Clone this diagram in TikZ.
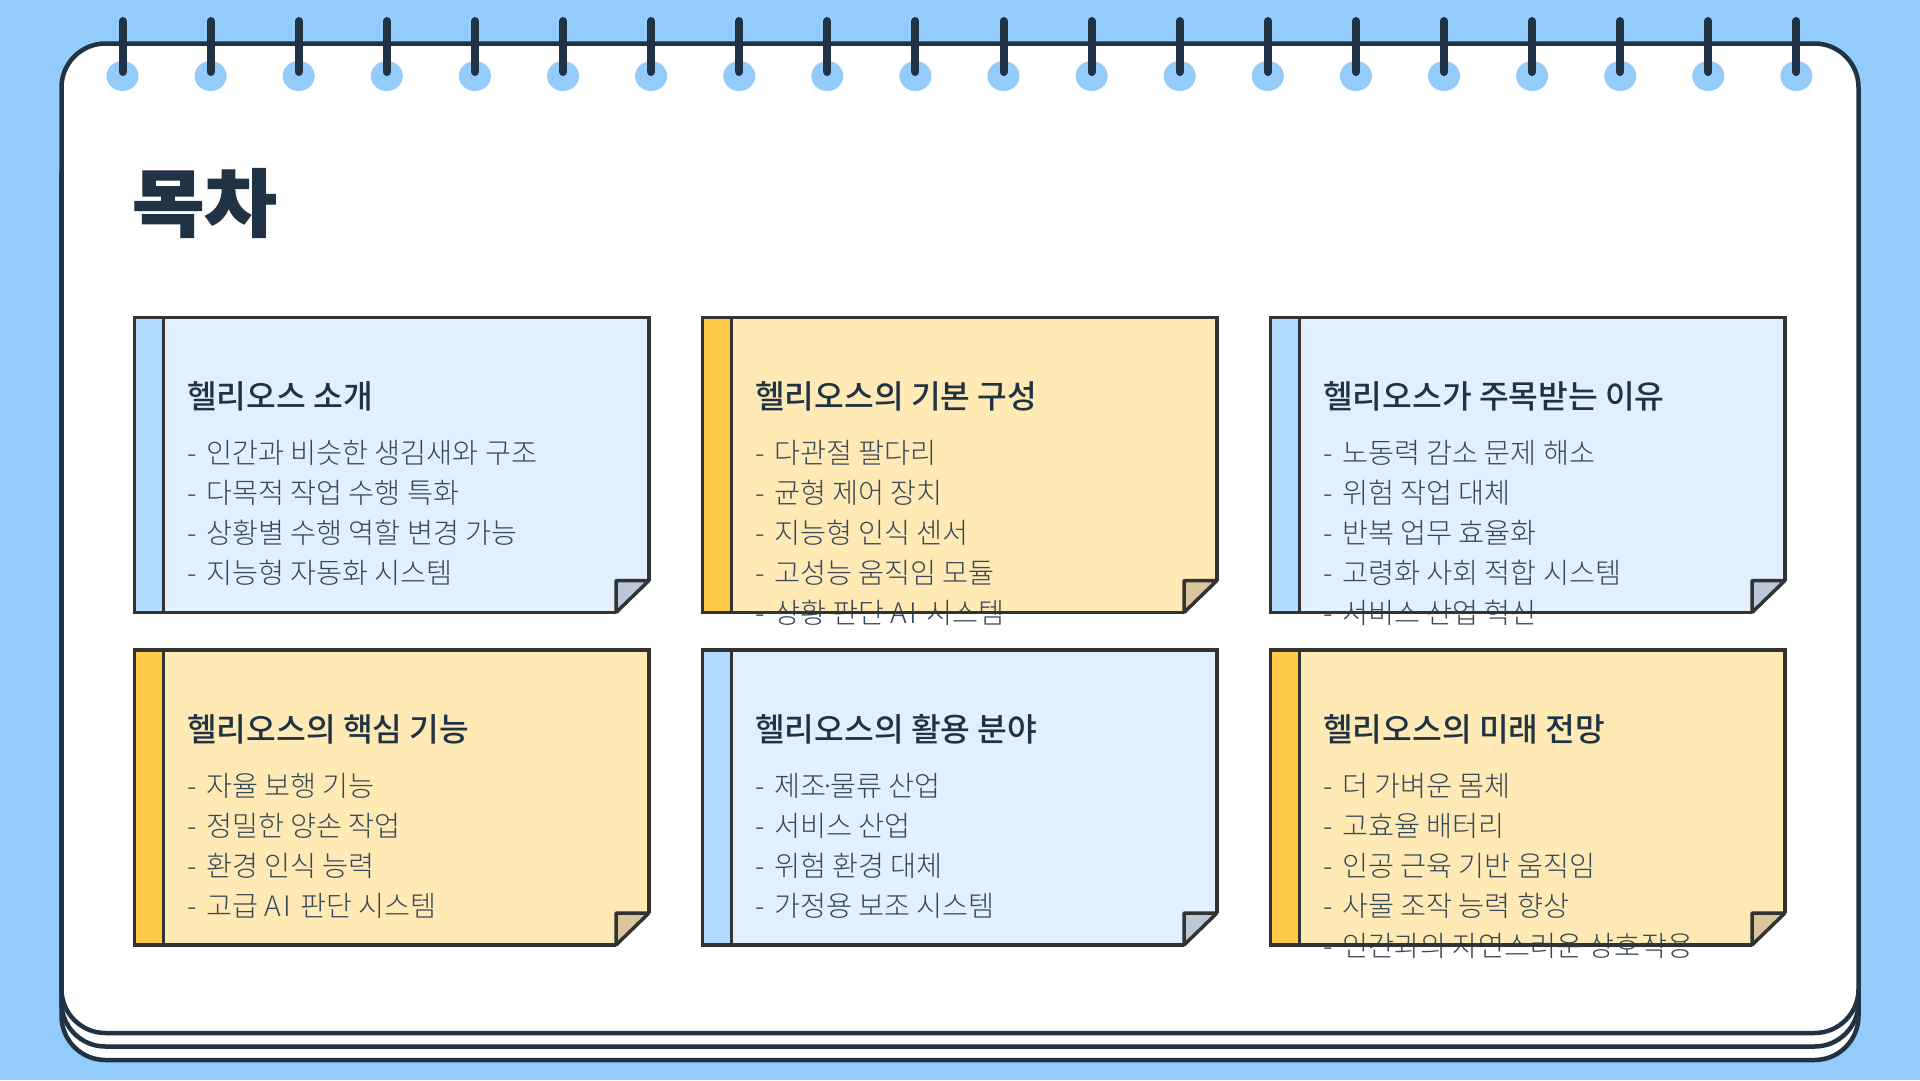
\documentclass[tikz,border=0pt]{standalone}
\usepackage{fontspec}
\usepackage{xcolor}
\usetikzlibrary{calc,positioning}
\newfontfamily\titlefont[FakeBold=1.4,FakeStretch=1.06]{Noto Sans CJK KR Black}
\newfontfamily\headfont{Noto Sans CJK KR Medium}
\newfontfamily\bodyfont{Noto Sans CJK KR Light}
\definecolor{pagebg}{RGB}{147,203,251}
\definecolor{inkblue}{RGB}{32,51,68}
\definecolor{bodyink}{RGB}{55,72,86}
\definecolor{edgegray}{RGB}{51,51,51}
\definecolor{cardblue}{RGB}{224,240,255}
\definecolor{sideblue}{RGB}{179,219,255}
\definecolor{foldblue}{RGB}{188,200,214}
\definecolor{cardyellow}{RGB}{255,233,181}
\definecolor{sideyellow}{RGB}{255,202,71}
\definecolor{foldyellow}{RGB}{216,199,155}
\tikzset{
  sheet/.style={draw=inkblue, line width=4.5pt, fill=white, rounded corners=44pt},
  ringhole/.style={fill=pagebg, draw=none},
  ringwire/.style={draw=inkblue, line width=8pt, line cap=round},
  cardbox/.style={anchor=north west, minimum width=514.5pt, minimum height=295pt,
    inner sep=0pt, outer sep=0pt},
  cardedge/.style={draw=edgegray, line width=3.5pt, line join=miter},
  cardtitle/.style={anchor=west, inner sep=0pt, text=inkblue, font=\headfont\fontsize{32.3}{36}\selectfont},
  cardbody/.style={anchor=north west, inner sep=0pt, text=bodyink, align=left,
    font=\bodyfont\fontsize{28.3}{40}\selectfont},
}
\newcommand{\itemdash}{-\hspace{9.5pt}}
\newcommand{\tightdot}{\hspace{-5.5pt}·\hspace{-5.5pt}}
\newcommand{\wideai}{A\hspace{2.5pt}I\hspace{2.5pt}}
% card: name, x, y, colour, title, lines
\newcommand{\notecard}[6]{
  \node[cardbox] (#1) at (#2,#3) {};
  \coordinate (#1foldr) at ($(#1.south east)+(0,-32)$);
  \coordinate (#1foldb) at ($(#1.south east)+(-33,0)$);
  \coordinate (#1foldc) at ($(#1.south east)+(-33,-32)$);
  \fill[card#4] (#1.north west) -- (#1.north east) -- (#1foldr) -- (#1foldb) -- (#1.south west) -- cycle;
  \fill[side#4] (#1.north west) rectangle ($(#1.south west)+(29,0)$);
  \node[cardtitle] (#1title) at ($(#1.north west)+(52.5,79)$) {#5};
  \node[cardbody] (#1body) at ($(#1.north west)+(52.5,122.7)$) {#6};
  \draw[cardedge, fill=fold#4, line join=bevel] (#1foldr) -- (#1foldc) -- (#1foldb) -- cycle;
  \draw[cardedge] (#1foldb) -- (#1.south west) -- (#1.north west) -- (#1.north east) -- (#1foldr);
  \draw[cardedge] ($(#1.north west)+(29,0)$) -- ($(#1.south west)+(29,0)$);
}
\begin{document}
\begin{tikzpicture}[x=1pt,y=-1pt]
  \fill[pagebg] (0,0) rectangle (1920,1080);
  \useasboundingbox (0,0) rectangle (1920,1080);
  % stacked sheets
  \draw[sheet] (61.5,134) rectangle (1858.5,1060);
  \draw[sheet] (61.5,134) rectangle (1858.5,1046.5);
  \draw[sheet] (61.5,43.5) rectangle (1858.5,1033);
  % binding
  \foreach \i in {0,...,19} {
    \fill[ringhole] (122.5+88.1*\i,76) ellipse (16 and 15);
    \draw[ringwire] (122.5+88.1*\i,21) -- (122.5+88.1*\i,72);
  }
  % title
  \node[anchor=west, inner sep=0pt, text=inkblue, font=\titlefont\fontsize{74}{84}\selectfont] (toc) at (132,203) {목차};
  % first row
  \notecard{intro}{134.5}{317.5}{blue}{헬리오스 소개}{\itemdash 인간과 비슷한 생김새와 구조\\\itemdash 다목적 작업 수행 특화\\\itemdash 상황별 수행 역할 변경 가능\\\itemdash 지능형 자동화 시스템}
  \notecard{parts}{702.5}{317.5}{yellow}{헬리오스의 기본 구성}{\itemdash 다관절 팔다리\\\itemdash 균형 제어 장치\\\itemdash 지능형 인식 센서\\\itemdash 고성능 움직임 모듈\\\itemdash 상황 판단 \wideai{} 시스템}
  \notecard{focus}{1270.5}{317.5}{blue}{헬리오스가 주목받는 이유}{\itemdash 노동력 감소 문제 해소\\\itemdash 위험 작업 대체\\\itemdash 반복 업무 효율화\\\itemdash 고령화 사회 적합 시스템\\\itemdash 서비스 산업 혁신}
  % second row
  \notecard{core}{134.5}{650}{yellow}{헬리오스의 핵심 기능}{\itemdash 자율 보행 기능\\\itemdash 정밀한 양손 작업\\\itemdash 환경 인식 능력\\\itemdash 고급 \wideai{} 판단 시스템}
  \notecard{uses}{702.5}{650}{blue}{헬리오스의 활용 분야}{\itemdash 제조\tightdot 물류 산업\\\itemdash 서비스 산업\\\itemdash 위험 환경 대체\\\itemdash 가정용 보조 시스템}
  \notecard{future}{1270.5}{650}{yellow}{헬리오스의 미래 전망}{\itemdash 더 가벼운 몸체\\\itemdash 고효율 배터리\\\itemdash 인공 근육 기반 움직임\\\itemdash 사물 조작 능력 향상\\\itemdash 인간과의 자연스러운 상호작용}
\end{tikzpicture}
\end{document}
